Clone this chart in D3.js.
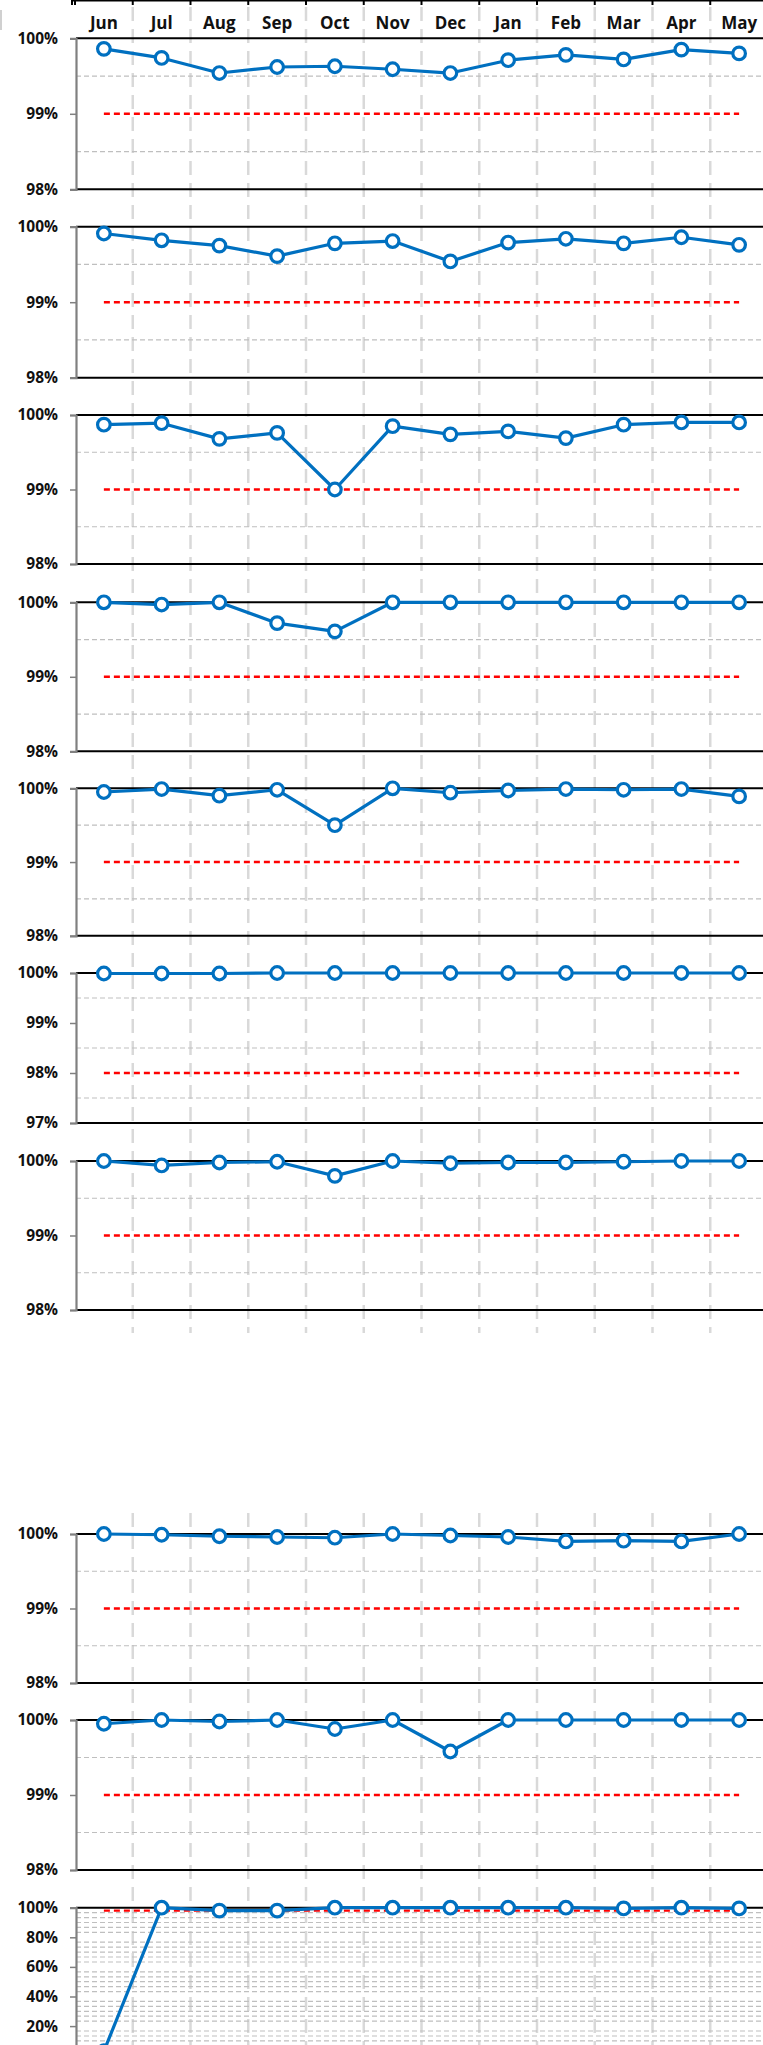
<!DOCTYPE html>
<html><head><meta charset="utf-8">
<script src="https://cdn.jsdelivr.net/npm/d3@7"></script>
<style>
html,body{margin:0;padding:0;background:#fff;}
svg{display:block;}
</style></head><body>
<svg id="chart" width="763" height="2045"></svg>
<script>
// Monthly categories
const months = ["Jun","Jul","Aug","Sep","Oct","Nov","Dec","Jan","Feb","Mar","Apr","May"];

// Monthly percentage series, one per panel (top to bottom)
const series1  = [99.86,99.74,99.54,99.62,99.63,99.59,99.54,99.71,99.78,99.72,99.85,99.80];
const series2  = [99.91,99.82,99.75,99.61,99.78,99.81,99.54,99.79,99.84,99.78,99.86,99.76];
const series3  = [99.87,99.89,99.68,99.76,99.00,99.85,99.74,99.78,99.69,99.87,99.90,99.90];
const series4  = [100,99.97,100,99.72,99.61,100,100,100,100,100,100,100];
const series5  = [99.95,99.99,99.90,99.98,99.50,100,99.94,99.97,99.99,99.98,99.99,99.89];
const series6  = [99.99,99.99,99.99,100,100,100,100,100,100,100,100,100];
const series7  = [100,99.94,99.98,99.99,99.80,100,99.97,99.98,99.98,99.99,100,100];
const series8  = [100,99.99,99.97,99.96,99.95,100,99.98,99.96,99.90,99.91,99.90,100];
const series9  = [99.95,100,99.98,100,99.88,100,99.58,100,100,100,100,100];
const series10 = [3,100,98,98,100,100,100,100,100,99.5,100,99.5];

// Target level per panel
const targets = [99,99,99,99,99,98,99,99,99,98];

// Axis range and labelled ticks per panel
const axisMin = [98,98,98,98,98,97,98,98,98,0];
const axisMax = [100,100,100,100,100,100,100,100,100,100];
const tickSets = [
  [98,99,100],[98,99,100],[98,99,100],[98,99,100],[98,99,100],
  [97,98,99,100],[98,99,100],[98,99,100],[98,99,100],[20,40,60,80,100]
];
// Dashed guide lines per panel
const guideSets = [
  [98.5,99.5],[98.5,99.5],[98.5,99.5],[98.5,99.5],[98.5,99.5],
  [97.5,98.5,99.5],[98.5,99.5],[98.5,99.5],[98.5,99.5],
  [3.3,6.7,10,13.3,16.7,23.3,26.7,30,33.3,36.7,43.3,46.7,50,53.3,56.7,
   63.3,66.7,70,73.3,76.7,83.3,86.7,90,93.3,96.7]
];

const allSeries = [series1,series2,series3,series4,series5,series6,series7,series8,series9,series10];

// Layout
const W = 763, H = 2045;
const axisX = 76;
const panelTop    = [38.3,226.7,415,602.3,788.3,973,1161,1534,1720,1907.7];
const panelHeight = [151,151,149,149,147.5,150,149,149,150,148];
const blue = "#0070c0";
const labelFont = "'Open Sans', sans-serif";

const svg = d3.select("#chart");

const x = d3.scaleBand().domain(months).range([75, 768]).padding(0);
const cx = m => x(m) + x.bandwidth() / 2;

// vertical dashed month separators (drawn first, behind everything)
const sepG = svg.append("g");
const seps = months.slice(1).map(m => x(m));
[[7, 1333], [1513, H]].forEach(([y0, y1]) => {
  sepG.selectAll(null).data(seps).enter().append("line")
    .attr("x1", d => d).attr("x2", d => d)
    .attr("y1", y0).attr("y2", y1)
    .attr("stroke", "#d9d9d9").attr("stroke-width", 2.5)
    .attr("stroke-dasharray", "14,8");
});

// header: month names with a top rule and ticks
const head = svg.append("g");
head.append("line").attr("x1", 72).attr("x2", W).attr("y1", 0.5).attr("y2", 0.5)
  .attr("stroke", "#000").attr("stroke-width", 2);
head.selectAll(null).data(months.map(m => x(m)).concat([72])).enter().append("line")
  .attr("x1", d => d).attr("x2", d => d).attr("y1", 0).attr("y2", 5)
  .attr("stroke", "#000").attr("stroke-width", 2);
head.selectAll(null).data(months).enter().append("text")
  .attr("x", d => cx(d)).attr("y", 29)
  .attr("text-anchor", "middle")
  .attr("font-family", labelFont).attr("font-weight", 700)
  .attr("font-size", 17).attr("fill", "#111")
  .text(d => d);
svg.append("rect").attr("x", 0).attr("y", 10).attr("width", 2).attr("height", 20).attr("fill", "#d0d0d0");

allSeries.forEach((vals, i) => {
  const top = panelTop[i], h = panelHeight[i];
  const y = d3.scaleLinear().domain([axisMin[i], axisMax[i]]).range([top + h, top]);
  const g = svg.append("g");

  // dashed guides
  g.selectAll(null).data(guideSets[i]).enter().append("line")
    .attr("x1", axisX).attr("x2", W)
    .attr("y1", d => y(d)).attr("y2", d => y(d))
    .attr("stroke", "#bfbfbf").attr("stroke-width", 1.2)
    .attr("stroke-dasharray", "5,3");

  // top and bottom rules
  [axisMax[i], axisMin[i]].forEach(v => {
    g.append("line").attr("x1", axisX).attr("x2", W)
      .attr("y1", y(v)).attr("y2", y(v))
      .attr("stroke", "#000").attr("stroke-width", 2);
  });

  // left axis with labels
  const ax = d3.axisLeft(y).tickValues(tickSets[i]).tickSize(6).tickPadding(12)
    .tickFormat(d => d + "%");
  const axG = g.append("g").attr("transform", `translate(${axisX},0)`).call(ax);
  axG.select(".domain").attr("stroke", "#808080").attr("stroke-width", 2.2);
  axG.selectAll(".tick line").attr("stroke", "#808080").attr("stroke-width", 1.5);
  axG.selectAll(".tick text")
    .attr("font-family", labelFont).attr("font-weight", 700)
    .attr("font-size", 15.5).attr("fill", "#111");

  // target line
  g.append("line")
    .attr("x1", cx(months[0])).attr("x2", cx(months[months.length - 1]))
    .attr("y1", y(targets[i])).attr("y2", y(targets[i]))
    .attr("stroke", "#ff0000").attr("stroke-width", 2.4)
    .attr("stroke-dasharray", "6,4");

  // series line and markers
  const pts = months.map((m, k) => ({m, v: vals[k]}));
  g.append("path").datum(pts)
    .attr("d", d3.line().x(d => cx(d.m)).y(d => y(d.v)))
    .attr("fill", "none").attr("stroke", blue).attr("stroke-width", 3.2)
    .attr("stroke-linejoin", "round");
  g.selectAll(null).data(pts).enter().append("circle")
    .attr("cx", d => cx(d.m)).attr("cy", d => y(d.v)).attr("r", 6.3)
    .attr("fill", "#fff").attr("stroke", blue).attr("stroke-width", 3.2);
});
</script>
</body></html>
